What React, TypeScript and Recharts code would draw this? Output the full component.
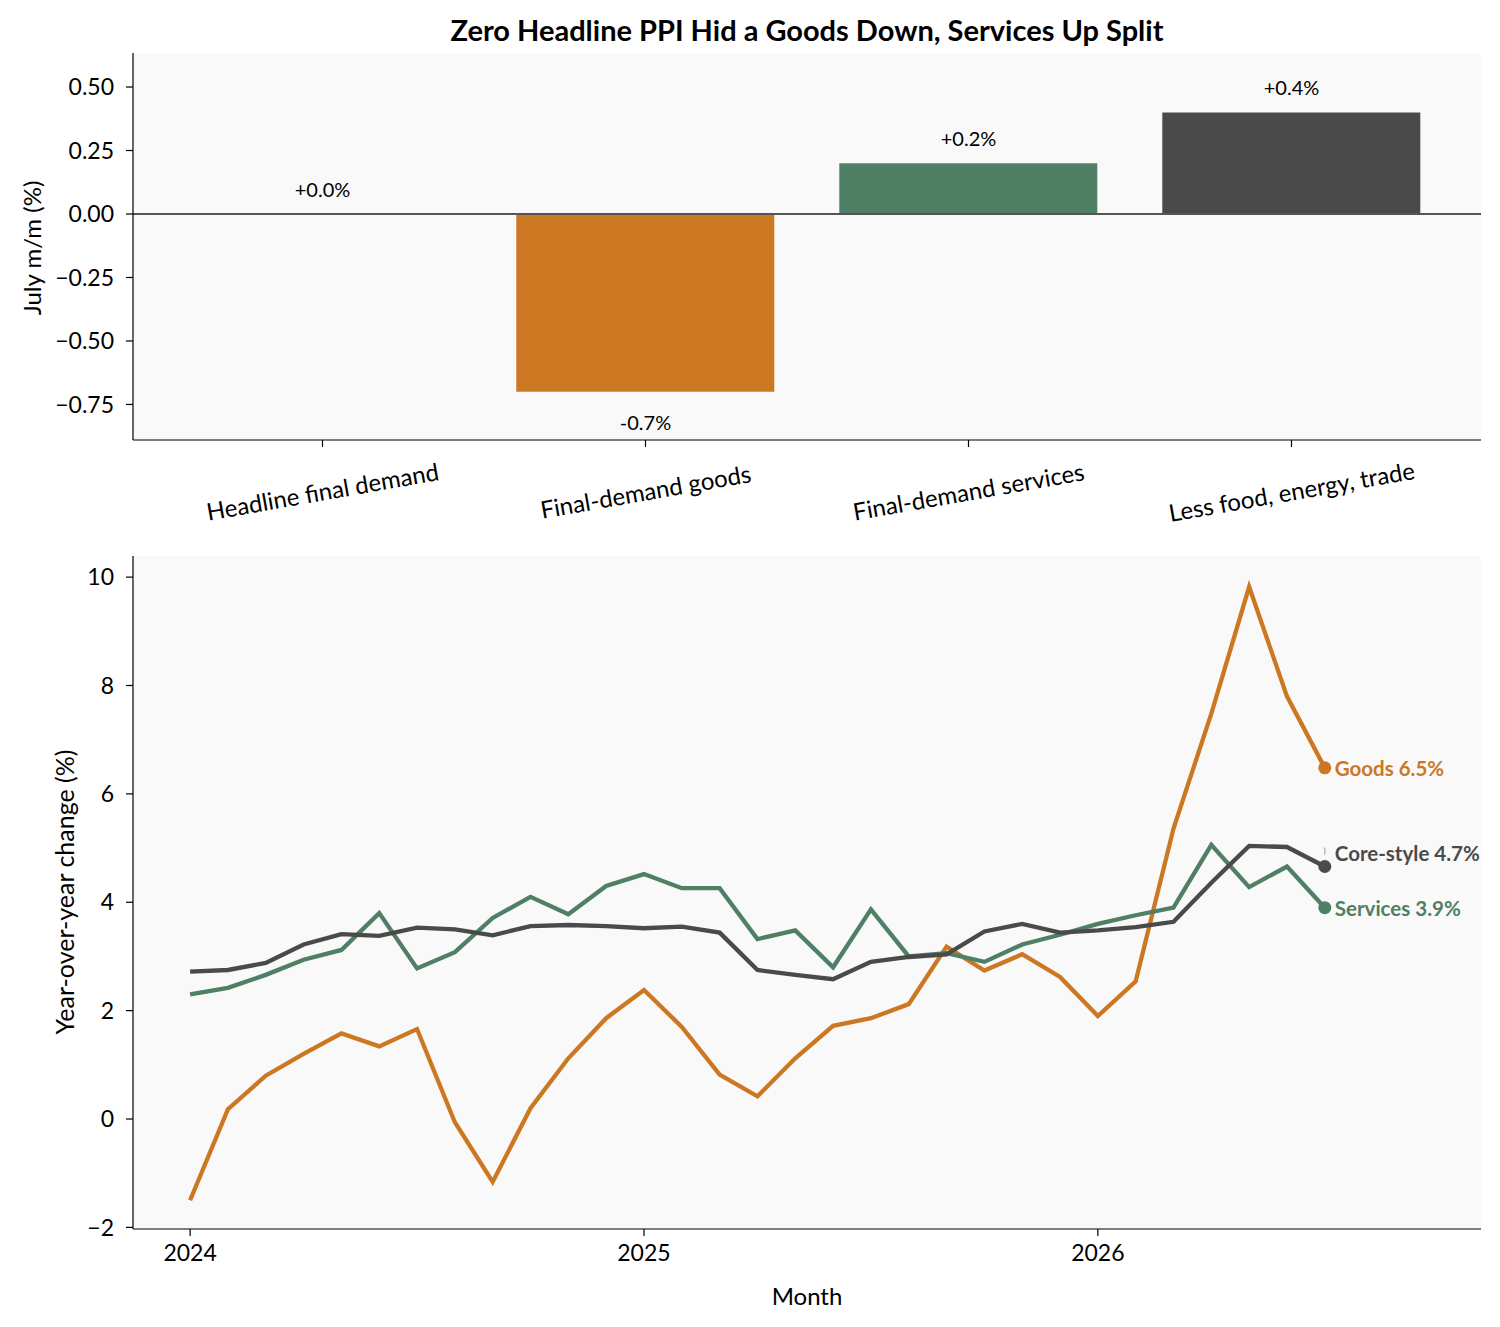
import React from 'react';
import {
  ComposedChart,
  Bar,
  Cell,
  LineChart,
  Line,
  XAxis,
  YAxis,
  CartesianGrid,
  ReferenceLine,
} from 'recharts';

const FONT = 'Lato, "Open Sans", sans-serif';

// top panel: July m/m change
const categories = ['Headline final demand', 'Final-demand goods', 'Final-demand services', 'Less food, energy, trade'];
const julyMoM = [0.0, -0.7, 0.2, 0.4];
const barColors = ['#4A4A4A', '#CC7722', '#4F7F64', '#4A4A4A'];
const barTicks = [-0.75, -0.5, -0.25, 0, 0.25, 0.5];

// bottom panel: year-over-year, monthly
const months = [
  '2024-01', '2024-02', '2024-03', '2024-04', '2024-05', '2024-06', '2024-07', '2024-08', '2024-09', '2024-10', '2024-11', '2024-12',
  '2025-01', '2025-02', '2025-03', '2025-04', '2025-05', '2025-06', '2025-07', '2025-08', '2025-09', '2025-10', '2025-11', '2025-12',
  '2026-01', '2026-02', '2026-03', '2026-04', '2026-05', '2026-06', '2026-07',
];
const goodsYoY = [
  -1.5, 0.18, 0.8, 1.2, 1.58, 1.34, 1.66, -0.06, -1.16, 0.2, 1.12, 1.86,
  2.38, 1.7, 0.82, 0.42, 1.12, 1.72, 1.86, 2.12, 3.18, 2.74, 3.04, 2.62,
  1.9, 2.54, 5.36, 7.48, 9.82, 7.8, 6.48,
];
const servicesYoY = [
  2.3, 2.42, 2.66, 2.94, 3.12, 3.8, 2.78, 3.08, 3.71, 4.1, 3.78, 4.3,
  4.52, 4.26, 4.26, 3.32, 3.48, 2.8, 3.87, 3.0, 3.06, 2.9, 3.22, 3.4,
  3.6, 3.76, 3.9, 5.06, 4.28, 4.66, 3.9,
];
const coreYoY = [
  2.72, 2.75, 2.88, 3.22, 3.41, 3.38, 3.53, 3.5, 3.39, 3.56, 3.58, 3.56,
  3.52, 3.55, 3.44, 2.75, 2.66, 2.58, 2.9, 2.99, 3.04, 3.46, 3.6, 3.44,
  3.48, 3.54, 3.64, 4.36, 5.04, 5.02, 4.66,
];
const yearTicks = [0, 12, 24];
const yoyTicks = [-2, 0, 2, 4, 6, 8, 10];

const ORANGE = '#CC7722';
const GREEN = '#4F7F64';
const DARK = '#4A4A4A';

const fmtSigned = (v: number, digits: number) =>
  v < 0 ? '\u2212' + Math.abs(v).toFixed(digits) : v.toFixed(digits);

const CategoryTick = (props: any) => {
  const { x, y, payload } = props;
  const cy = y + 42;
  return (
    <text
      x={x}
      y={cy}
      textAnchor="middle"
      dominantBaseline="central"
      transform={`rotate(-10, ${x}, ${cy})`}
      fontSize={24}
      fontFamily={FONT}
      fill="#000"
    >
      {payload.value}
    </text>
  );
};

// value labels sit on an invisible line so the zero bar gets one too
const BarValueDot = (props: any) => {
  const { cx, cy, index, value } = props;
  const v = Number(Array.isArray(value) ? value[1] : value);
  const ty = v >= 0 ? cy - 25 : cy + 30;
  const text = (v >= 0 ? '+' : '-') + Math.abs(v).toFixed(1) + '%';
  return (
    <text key={`bl-${index}`} x={cx} y={ty} textAnchor="middle" dominantBaseline="central" fontSize={20} fontFamily={FONT} fill="#000">
      {text}
    </text>
  );
};

const makeEndDot = (color: string, label: string, dy: number, stub?: boolean) => (props: any) => {
  const { cx, cy, index } = props;
  if (index !== months.length - 1) return <g key={`d-${index}`} />;
  return (
    <g key={`d-${index}`}>
      {stub ? <line x1={cx} x2={cx} y1={cy - 19} y2={cy - 12} stroke="#bbbbbb" strokeWidth={1.5} /> : null}
      <circle cx={cx} cy={cy} r={6.5} fill={color} />
      <text x={cx + 10} y={cy + dy} dominantBaseline="central" fontSize={20.5} fontWeight={700} fontFamily={FONT} fill={color}>
        {label}
      </text>
    </g>
  );
};

const tickStyle = { fontSize: 23, fontFamily: FONT, fill: '#000' };

export default function App() {
  const barData = categories.map((name, i) => ({ name, value: julyMoM[i] }));
  const lineData = months.map((m, i) => ({
    idx: i,
    month: m,
    goods: goodsYoY[i],
    services: servicesYoY[i],
    core: coreYoY[i],
  }));
  const last = months.length - 1;

  return (
    <div style={{ position: 'absolute', left: 0, top: 0, width: 1500, height: 1327, background: '#fff', fontFamily: FONT }}>
      <div
        style={{
          position: 'absolute', left: 133, width: 1348, top: 11, height: 38, lineHeight: '38px',
          textAlign: 'center', fontSize: 29, fontWeight: 700, color: '#000',
        }}
      >
        Zero Headline PPI Hid a Goods Down, Services Up Split
      </div>

      <div style={{ position: 'absolute', left: 0, top: 0 }}>
        <ComposedChart width={1500} height={530} data={barData} margin={{ top: 53, right: 19, left: 0, bottom: 0 }} barCategoryGap="10%">
          <CartesianGrid fill="#f9f9f9" stroke="none" />
          <XAxis
            dataKey="name"
            height={90}
            interval={0}
            padding={{ left: 28, right: 28 }}
            tick={CategoryTick}
            tickSize={7}
            axisLine={{ stroke: '#000', strokeWidth: 1.2 }}
            tickLine={{ stroke: '#000', strokeWidth: 1.2 }}
          />
          <YAxis
            width={133}
            type="number"
            domain={[-0.89, 0.634]}
            allowDataOverflow
            ticks={barTicks}
            tickFormatter={(v: number) => fmtSigned(v, 2)}
            tick={tickStyle}
            tickSize={7}
            tickMargin={12}
            axisLine={{ stroke: '#000', strokeWidth: 1.2 }}
            tickLine={{ stroke: '#000', strokeWidth: 1.2 }}
          />
          <Bar dataKey="value" isAnimationActive={false}>
            {barData.map((d, i) => (
              <Cell key={d.name} fill={barColors[i]} />
            ))}
          </Bar>
          <ReferenceLine y={0} stroke="#555555" strokeWidth={2} />
          <Line dataKey="value" stroke="none" dot={BarValueDot} activeDot={false} isAnimationActive={false} />
        </ComposedChart>
      </div>

      <div
        style={{
          position: 'absolute', left: 32 - 150, top: 248 - 16, width: 300, height: 32, lineHeight: '32px',
          textAlign: 'center', fontSize: 24, transform: 'rotate(-90deg)', color: '#000',
        }}
      >
        July m/m (%)
      </div>

      <div style={{ position: 'absolute', left: 0, top: 540 }}>
        <LineChart width={1500} height={787} data={lineData} margin={{ top: 16, right: 19, left: 0, bottom: 0 }}>
          <CartesianGrid fill="#f9f9f9" stroke="none" />
          <XAxis
            dataKey="idx"
            type="number"
            domain={[-1.51, 34.13]}
            allowDataOverflow
            ticks={yearTicks}
            tickFormatter={(v: number) => months[v].slice(0, 4)}
            height={98}
            tick={tickStyle}
            tickSize={7}
            tickMargin={9}
            axisLine={{ stroke: '#000', strokeWidth: 1.2 }}
            tickLine={{ stroke: '#000', strokeWidth: 1.2 }}
          />
          <YAxis
            width={133}
            type="number"
            domain={[-2.03, 10.39]}
            allowDataOverflow
            ticks={yoyTicks}
            tickFormatter={(v: number) => fmtSigned(v, 0)}
            tick={tickStyle}
            tickSize={7}
            tickMargin={12}
            axisLine={{ stroke: '#000', strokeWidth: 1.2 }}
            tickLine={{ stroke: '#000', strokeWidth: 1.2 }}
          />
          <Line
            dataKey="goods"
            stroke={ORANGE}
            strokeWidth={4.3}
            dot={makeEndDot(ORANGE, `Goods ${goodsYoY[last].toFixed(1)}%`, 0)}
            activeDot={false}
            isAnimationActive={false}
          />
          <Line
            dataKey="services"
            stroke={GREEN}
            strokeWidth={4.3}
            dot={makeEndDot(GREEN, `Services ${servicesYoY[last].toFixed(1)}%`, 0)}
            activeDot={false}
            isAnimationActive={false}
          />
          <Line
            dataKey="core"
            stroke={DARK}
            strokeWidth={4.3}
            dot={makeEndDot(DARK, `Core-style ${coreYoY[last].toFixed(1)}%`, -13, true)}
            activeDot={false}
            isAnimationActive={false}
          />
        </LineChart>
      </div>

      <div
        style={{
          position: 'absolute', left: 64 - 200, top: 892 - 16, width: 400, height: 32, lineHeight: '32px',
          textAlign: 'center', fontSize: 25, transform: 'rotate(-90deg)', color: '#000',
        }}
      >
        Year-over-year change (%)
      </div>
      <div
        style={{
          position: 'absolute', left: 133, width: 1348, top: 1280, height: 32, lineHeight: '32px',
          textAlign: 'center', fontSize: 24, color: '#000',
        }}
      >
        Month
      </div>
    </div>
  );
}
